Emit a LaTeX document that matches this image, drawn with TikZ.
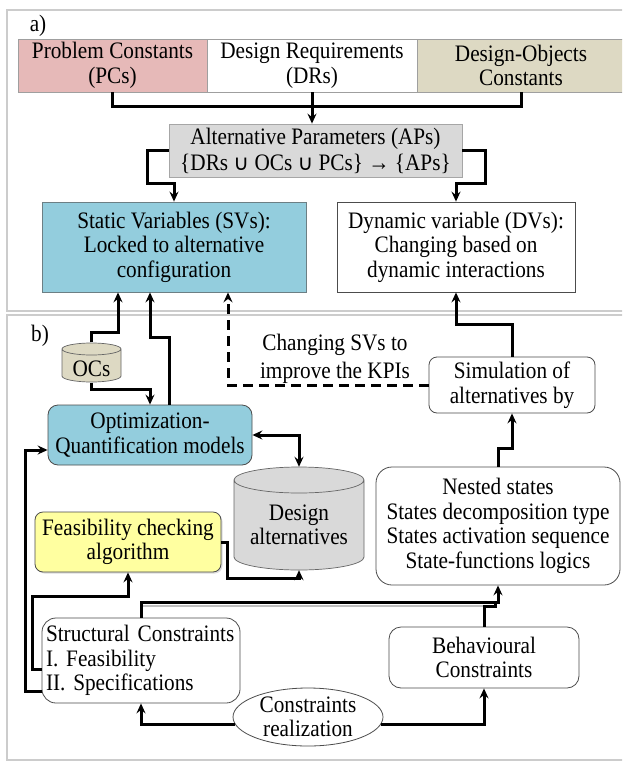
\documentclass[tikz,border=0pt]{standalone}
\usepackage{fontspec}
\setmainfont{Liberation Serif}[FakeStretch=0.9]
\newfontfamily\symbfont{DejaVu Sans}
\usetikzlibrary{arrows.meta,calc,shapes.geometric,shadows}

\definecolor{pcred}{HTML}{E6B9B8}
\definecolor{dockhaki}{HTML}{DDD9C3}
\definecolor{apgray}{HTML}{D9D9D9}
\definecolor{svblue}{HTML}{93CDDD}
\definecolor{feasyellow}{HTML}{FFFFA0}
\definecolor{framegray}{HTML}{CCCCCC}

\newcommand{\setunion}{{\symbfont\fontsize{21.5}{21.5}\selectfont ∪}}

\begin{document}
\begin{tikzpicture}[x=1pt,y=-1pt,
  every node/.style={font=\fontsize{23.6}{24.5}\selectfont, inner sep=0pt, align=center},
  >={Stealth[length=10pt,width=9pt,inset=3.5pt]},
  topbox/.style={draw=gray!75, line width=0.8pt, minimum height=53},
  plainbox/.style={draw=black!70, line width=0.8pt, fill=white},
  roundbox/.style={draw=black!70, line width=0.8pt, fill=white, rounded corners=#1},
  link/.style={line width=3pt},
  panel/.style={draw=framegray, line width=1.3pt},
  cylbody/.style={draw=black!60, line width=0.7pt},
]
\useasboundingbox (0,0) rectangle (622,763);
\fill[white] (0,0) rectangle (622,763);
\clip (0,0) rectangle (622,763);

% panel frames
\draw[panel] (7,10) rectangle (640,311);
\draw[panel] (7,315) rectangle (640,760);

% ---------- part a ----------
\node (alab) at (38,26) {a)};
\node[topbox, fill=pcred, minimum width=189] (pc) at (112.5,65.5) {Problem Constants\\(PCs)};
\node[topbox, fill=white, minimum width=210] (dr) at (312,65.5) {Design Requirements\\(DRs)};
\node[topbox, fill=dockhaki, minimum width=208] (doc) at (521,65.5) {Design-Objects\\Constants};

\node[draw=gray!70, fill=apgray, line width=0.8pt, minimum width=293, minimum height=53] (ap) at (315.5,150.5)
  {Alternative Parameters (APs)\\[1.5pt]\{DRs \setunion{} OCs \setunion{} PCs\} → \{APs\}};

\node[draw=gray!60!svblue!80!black, fill=svblue, line width=0.8pt, minimum width=264, minimum height=90] (sv) at (174,247)
  {Static Variables (SVs):\\Locked to alternative\\configuration};
\node[plainbox, minimum width=238, minimum height=90] (dv) at (456,247)
  {Dynamic variable (DVs):\\Changing based on\\dynamic interactions};

\coordinate (ja) at (312,106);
\draw[link] (pc.south) |- (ja) -| (doc.south);
\draw[link,->] (dr.south) -- (dr.south |- ap.north);
\coordinate (ka) at (147,183);
\draw[link,->] (ap.west) -| (ka) -| (sv.north);
\coordinate (kb) at (485,183);
\draw[link,->] (ap.east) -| (kb) -| (dv.north);

% ---------- part b ----------
\node (blab) at (40,336) {b)};

% OCs store
\fill[dockhaki] (62,349) -- (62,376) arc[start angle=180,end angle=360,x radius=29.5pt,y radius=6pt]
  -- (121,349) arc[start angle=0,end angle=180,x radius=29.5pt,y radius=6pt] -- cycle;
\draw[cylbody] (62,349) -- (62,376) arc[start angle=180,end angle=360,x radius=29.5pt,y radius=6pt]
  -- (121,349) arc[start angle=0,end angle=360,x radius=29.5pt,y radius=6pt];
\node[minimum width=59, minimum height=40] (ocs) at (91.5,362.5) {};
\node (ocstext) at (91.5,369) {OCs};

% design alternatives store
\fill[apgray] (234,480) -- (234,557) arc[start angle=180,end angle=360,x radius=65pt,y radius=13pt]
  -- (364,480) arc[start angle=0,end angle=180,x radius=65pt,y radius=13pt] -- cycle;
\draw[cylbody] (234,480) -- (234,557) arc[start angle=180,end angle=360,x radius=65pt,y radius=13pt]
  -- (364,480) arc[start angle=0,end angle=360,x radius=65pt,y radius=13pt];
\node[minimum width=130, minimum height=103] (da) at (299,518.5) {};
\node (datext) at (299,525) {Design\\alternatives};

\node[roundbox=10, fill=svblue, minimum width=204, minimum height=60] (opt) at (150,435)
  {Optimization-\\Quantification models};
\node[roundbox=8, fill=feasyellow, minimum width=186, minimum height=60,
  drop shadow={shadow xshift=1.5pt, shadow yshift=-1.5pt, fill=gray!55}] (feas) at (128,542)
  {Feasibility checking\\algorithm};
\node[roundbox=8, minimum width=166, minimum height=56] (sim) at (512,385)
  {Simulation of\\alternatives by};
\node[roundbox=16, minimum width=244, minimum height=118] (nest) at (498,526)
  {Nested states\\States decomposition type\\States activation sequence\\State-functions logics};
\node[roundbox=14, minimum width=198, minimum height=85, align=left, text width=190] (st) at (141,660.5)
  {Structural Constraints\\I. Feasibility\\II. Specifications};
\node[roundbox=12, minimum width=190, minimum height=61] (bh) at (484,657.5)
  {Behavioural\\Constraints};
\node[ellipse, draw=black!70, line width=0.8pt, fill=white, minimum width=150, minimum height=58] (cr) at (308,717)
  {Constraints\\realization};
\node (chg) at (335,359) {Changing SVs to\\[3.5pt]improve the KPIs};

% connectors of part b
\coordinate (kc) at (118,332);
\draw[link,->] (ocs.north) |- (kc) -- (kc |- sv.south);
\coordinate (kd) at (150,337);
\draw[link,->] ($(opt.north)+(19,0)$) |- (kd) -- (kd |- sv.south);
\coordinate (ke) at (150,389);
\draw[link,->] (ocs.south) |- (ke) -- (ke |- opt.north);
\coordinate (kf) at (228,385);
\draw[link,->,dash pattern=on 10pt off 6pt] (sim.west) -- (kf) -- (kf |- sv.south);
\coordinate (kg) at (456,324);
\draw[link,->] (sim.north) |- (kg) -- (dv.south);
\draw[link,<->] (opt.east) -| (da.north);
\coordinate (kh) at (227,578);
\draw[link,->] (feas.east) -| (kh) -| (da.south);
\coordinate (kj) at (32,596);
\draw[link,->] ($(st.west)+(0,9)$) -| (kj) -| (feas.south);
\coordinate (kk) at (25,450);
\draw[link,->] ($(st.west)+(0,31)$) -| (kk) -- (kk -| opt.west);
\coordinate (kl) at (498,602);
\draw[gray!50, line width=2pt] ($(st.north |- kl)+(1.5,3.8)$) -- ($(kl)+(-1.5,3.8)$);
\draw[link,->] (st.north) |- (kl) -- (nest.south);
\coordinate (km) at (495,606);
\draw[link] (bh.north) |- (km) -- (km |- kl);
\coordinate (kn) at (505,448);
\draw[link,->] (nest.north) |- (kn) -| (sim.south);
\draw[link,->] ($(cr.west)+(2.2,7)$) -| (st.south);
\draw[link,->] ($(cr.east)+(-2.2,7)$) -| (bh.south);
\end{tikzpicture}
\end{document}
